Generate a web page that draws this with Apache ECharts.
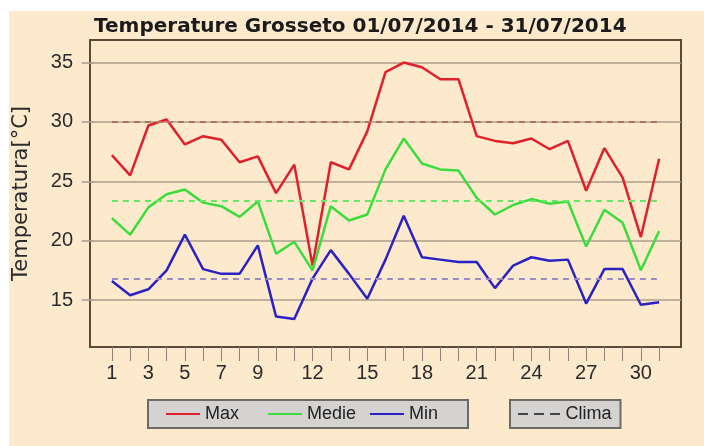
<!DOCTYPE html>
<html>
<head>
<meta charset="utf-8">
<script src="https://cdn.jsdelivr.net/npm/echarts@6/dist/echarts.min.js"></script>
<style>
  html, body { margin: 0; padding: 0; background: #ffffff; }
  #chart { width: 704px; height: 446px; }
</style>
</head>
<body>
<div id="chart"></div>
<script>
// Days of July 2014
const days = [1,2,3,4,5,6,7,8,9,10,11,12,13,14,15,16,17,18,19,20,21,22,23,24,25,26,27,28,29,30,31];
// Daily temperatures (°C)
const tMax   = [27.2,25.5,29.7,30.2,28.1,28.8,28.5,26.6,27.1,24.0,26.4,17.9,26.6,26.0,29.2,34.2,35.0,34.6,33.6,33.6,28.8,28.4,28.2,28.6,27.7,28.4,24.2,27.8,25.3,20.3,26.9];
const tMedie = [21.9,20.5,22.8,23.9,24.3,23.2,22.9,22.0,23.3,18.9,19.9,17.5,22.9,21.7,22.2,26.0,28.6,26.5,26.0,25.9,23.6,22.2,23.0,23.5,23.1,23.3,19.5,22.6,21.5,17.5,20.8];
const tMin   = [16.6,15.4,15.9,17.5,20.5,17.6,17.2,17.2,19.6,13.6,13.4,16.8,19.2,17.2,15.1,18.4,22.1,18.6,18.4,18.2,18.2,16.0,17.9,18.6,18.3,18.4,14.7,17.6,17.6,14.6,14.8];
// Climatological reference values: max, mean, min
const clima = [30.0, 23.4, 16.8];
// Axis labels
const xLabels = [1,3,5,7,9,12,15,18,21,24,27,30];
const yLabels = [15,20,25,30,35];

const peach = '#fde9cc';
const gridCol = '#ad9d8c';
const climaColors = ['#b2705f', '#66e866', '#9a8cc0'];

const chart = echarts.init(document.getElementById('chart'), null, { renderer: 'canvas' });

const pairs = arr => days.map((d, i) => [d, arr[i]]);
const first = days[0], last = days[days.length - 1];

chart.setOption({
  animation: false,
  backgroundColor: 'transparent',
  graphic: {
    elements: [{
      type: 'rect', z: -100, silent: true,
      shape: { x: 9, y: 11, width: 695, height: 435 },
      style: { fill: peach }
    }]
  },
  title: {
    text: 'Temperature Grosseto 01/07/2014 - 31/07/2014',
    left: 94, top: 17, padding: 0,
    textStyle: { fontFamily: 'DejaVu Sans', fontWeight: 'bold', fontSize: 20, color: '#1b1b1b' }
  },
  grid: {
    left: 90, top: 40, right: 23, bottom: 99,
    outerBoundsMode: 'none', containLabel: false,
    show: true, backgroundColor: peach,
    borderColor: '#5b4a38', borderWidth: 2
  },
  legend: [{
    data: ['Max', 'Medie', 'Min'],
    left: 148, top: 400,
    orient: 'horizontal',
    padding: [4, 9, 4, 18],
    itemGap: 13, itemWidth: 34, itemHeight: 2,
    icon: 'rect',
    backgroundColor: '#d5d3d1', borderColor: '#6e6a66', borderWidth: 2,
    selectedMode: false,
    textStyle: { fontFamily: 'Liberation Sans', fontSize: 18, color: '#222', width: 50, lineHeight: 20 }
  }, {
    data: ['Clima'],
    left: 510, top: 400,
    padding: [4, 9, 4, 8],
    itemWidth: 43, itemHeight: 2,
    icon: 'path://M0,0H10V2H0Z M16,0H26V2H16Z M32,0H42V2H32Z',
    backgroundColor: '#d5d3d1', borderColor: '#6e6a66', borderWidth: 2,
    selectedMode: false,
    textStyle: { fontFamily: 'Liberation Sans', fontSize: 18, color: '#222', lineHeight: 20 }
  }],
  xAxis: {
    type: 'value', min: -0.2, max: 32.2,
    axisLine: { show: false },
    axisTick: { show: true, customValues: days, length: 14, inside: false,
      lineStyle: { color: '#8f8272', width: 1 } },
    axisLabel: { customValues: xLabels, margin: 16,
      fontFamily: 'Liberation Sans', fontSize: 20, color: '#2b2b2b' },
    splitLine: { show: false }
  },
  yAxis: {
    type: 'value', min: 11.04, max: 36.9,
    name: 'Temperatura[°C]', nameLocation: 'middle', nameGap: 58,
    nameTextStyle: { fontFamily: 'DejaVu Sans', fontSize: 21, color: '#2b2b2b' },
    axisLine: { show: false },
    axisTick: { show: true, customValues: yLabels, length: 12,
      lineStyle: { color: gridCol, width: 1.5 } },
    axisLabel: { customValues: yLabels, margin: 17,
      fontFamily: 'Liberation Sans', fontSize: 20, color: '#2b2b2b' },
    splitLine: { show: true, lineStyle: { color: gridCol, width: 1.5 } }
  },
  series: [{
    name: 'Clima', type: 'line', data: [], symbol: 'none',
    itemStyle: { color: '#444' }, lineStyle: { color: '#444' },
    markLine: {
      silent: true, symbol: 'none', label: { show: false },
      data: clima.map((v, i) => [
        { coord: [first, v], lineStyle: { color: climaColors[i], type: [6, 5], width: 2 } },
        { coord: [last, v] }
      ])
    }
  }, {
    name: 'Max', type: 'line', data: pairs(tMax), symbol: 'none',
    itemStyle: { color: '#e0202a' }, lineStyle: { color: '#e0202a', width: 2.5 }
  }, {
    name: 'Medie', type: 'line', data: pairs(tMedie), symbol: 'none',
    itemStyle: { color: '#3bdc3b' }, lineStyle: { color: '#3bdc3b', width: 2.5 }
  }, {
    name: 'Min', type: 'line', data: pairs(tMin), symbol: 'none',
    itemStyle: { color: '#2a22c4' }, lineStyle: { color: '#2a22c4', width: 2.5 }
  }]
});
</script>
</body>
</html>
